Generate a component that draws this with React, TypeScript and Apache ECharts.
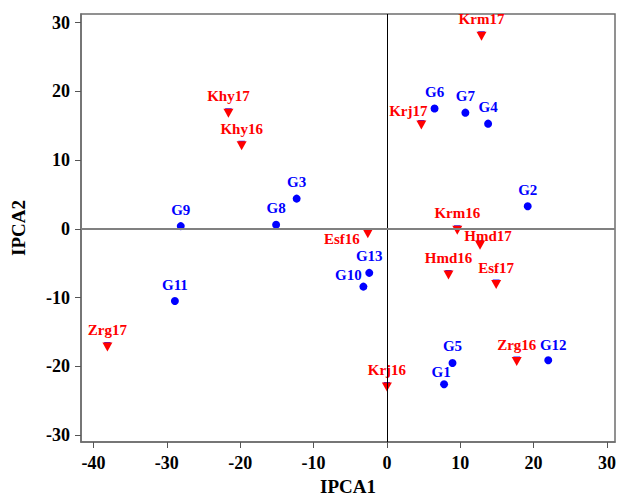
import React, { useEffect, useRef } from "react";
import * as echarts from "echarts";

const genotypeNames = ["G1", "G2", "G3", "G4", "G5", "G6", "G7", "G8", "G9", "G10", "G11", "G12", "G13"];
const genotypeX = [7.8, 19.2, -12.3, 13.8, 8.95, 6.5, 10.7, -15.1, -28.1, -3.2, -28.9, 22.0, -2.4];
const genotypeY = [-22.6, 3.3, 4.4, 15.3, -19.5, 17.5, 16.9, 0.6, 0.4, -8.4, -10.5, -19.1, -6.4];

const envNames = ["Khy17", "Khy16", "Krm17", "Krj17", "Krm16", "Esf16", "Hmd17", "Hmd16", "Esf17", "Zrg16", "Krj16", "Zrg17"];
const envX = [-21.6, -19.8, 12.9, 4.7, 9.6, -2.6, 12.7, 8.4, 14.9, 17.7, 0.0, -38.1];
const envY = [16.8, 12.1, 28.0, 15.1, -0.2, -0.7, -2.4, -6.7, -8.1, -19.3, -23.0, -17.2];

const xTicks = [-40, -30, -20, -10, 0, 10, 20, 30];
const yTicks = [-30, -20, -10, 0, 10, 20, 30];

const FONT = "'Liberation Serif', 'Times New Roman', serif";

const labelTweaks: Record<string, any> = {
  Krj17: { offset: [-13, 3] },
  Esf16: { position: "left", distance: 3, offset: [0, 5] },
  Hmd17: { offset: [8, 7.5] },
  G10: { offset: [-15, 5] },
  G1: { offset: [-3, 4] },
  G12: { offset: [5, 1.5] },
};

export default function App() {
  const ref = useRef<HTMLDivElement>(null);
  useEffect(() => {
    if (!ref.current) return;
    const chart = echarts.init(ref.current, null, { renderer: "svg" });
    const mk = (names: string[], xs: number[], ys: number[]) =>
      names.map((n, i) => {
        const item: any = { name: n, value: [xs[i], ys[i]] };
        if (labelTweaks[n]) item.label = { ...labelTweaks[n] };
        return item;
      });
    const axisCommon = {
      axisLine: { show: true, onZero: false, lineStyle: { color: "#6e6e6e", width: 1.5 } },
      axisTick: { show: true, inside: false, length: 6, lineStyle: { color: "#555", width: 1 } },
      splitLine: { show: false },
      nameMoveOverlap: false,
      nameTextStyle: { fontFamily: FONT, fontWeight: "bold", fontSize: 19, lineHeight: 18, color: "#000" },
    };
    chart.setOption({
      animation: false,
      grid: {
        left: 81,
        right: 2,
        top: 14,
        bottom: 53,
        show: true,
        borderColor: "#6e6e6e",
        borderWidth: 1.5,
        backgroundColor: "transparent",
        containLabel: false,
        outerBoundsMode: "none",
      },
      xAxis: {
        type: "value",
        min: -41.7,
        max: 31.1,
        name: "IPCA1",
        nameLocation: "middle",
        nameGap: 35,
        ...axisCommon,
        axisTick: { ...axisCommon.axisTick, customValues: xTicks },
        axisLabel: {
          customValues: xTicks,
          margin: 12,
          fontFamily: FONT,
          fontWeight: "bold",
          fontSize: 18,
          color: "#000",
        },
      },
      yAxis: {
        type: "value",
        min: -31,
        max: 31.25,
        name: "IPCA2",
        nameLocation: "middle",
        nameGap: 54,
        ...axisCommon,
        axisTick: { ...axisCommon.axisTick, customValues: yTicks },
        axisLabel: {
          customValues: yTicks,
          margin: 11,
          fontFamily: FONT,
          fontWeight: "bold",
          fontSize: 18,
          color: "#000",
        },
      },
      series: [
        {
          type: "scatter",
          data: [],
          z: 1,
          markLine: {
            silent: true,
            symbol: "none",
            animation: false,
            label: { show: false },
            data: [
              { xAxis: 0, lineStyle: { color: "#000", width: 1, type: "solid" } },
              { yAxis: 0, lineStyle: { color: "#808080", width: 2, type: "solid" } },
            ],
          },
        },
        {
          type: "scatter",
          z: 3,
          symbol: "circle",
          symbolSize: 8,
          itemStyle: { color: "#0000ff", opacity: 1 },
          data: mk(genotypeNames, genotypeX, genotypeY),
          label: {
            show: true,
            position: "top",
            distance: 5,
            formatter: "{b}",
            fontFamily: FONT,
            fontWeight: "bold",
            fontSize: 15,
            color: "#0000ff",
          },
        },
        {
          type: "scatter",
          z: 2,
          symbol: "triangle",
          symbolRotate: 180,
          symbolSize: [7, 6],
          symbolOffset: [0, -2],
          itemStyle: { color: "#2020ff", opacity: 1 },
          data: envX.map((x, i) => [x, envY[i]]),
        },
        {
          type: "scatter",
          z: 3,
          symbol: "triangle",
          symbolRotate: 180,
          symbolSize: [10, 9],
          itemStyle: { color: "#ff0000", opacity: 1 },
          data: mk(envNames, envX, envY),
          label: {
            show: true,
            position: "top",
            distance: 5,
            formatter: "{b}",
            fontFamily: FONT,
            fontWeight: "bold",
            fontSize: 15,
            color: "#ff0000",
          },
        },
      ],
    });
    return () => chart.dispose();
  }, []);
  return (
    <div
      ref={ref}
      style={{ position: "fixed", left: 0, top: 0, width: 617, height: 495, background: "#fff" }}
    />
  );
}
